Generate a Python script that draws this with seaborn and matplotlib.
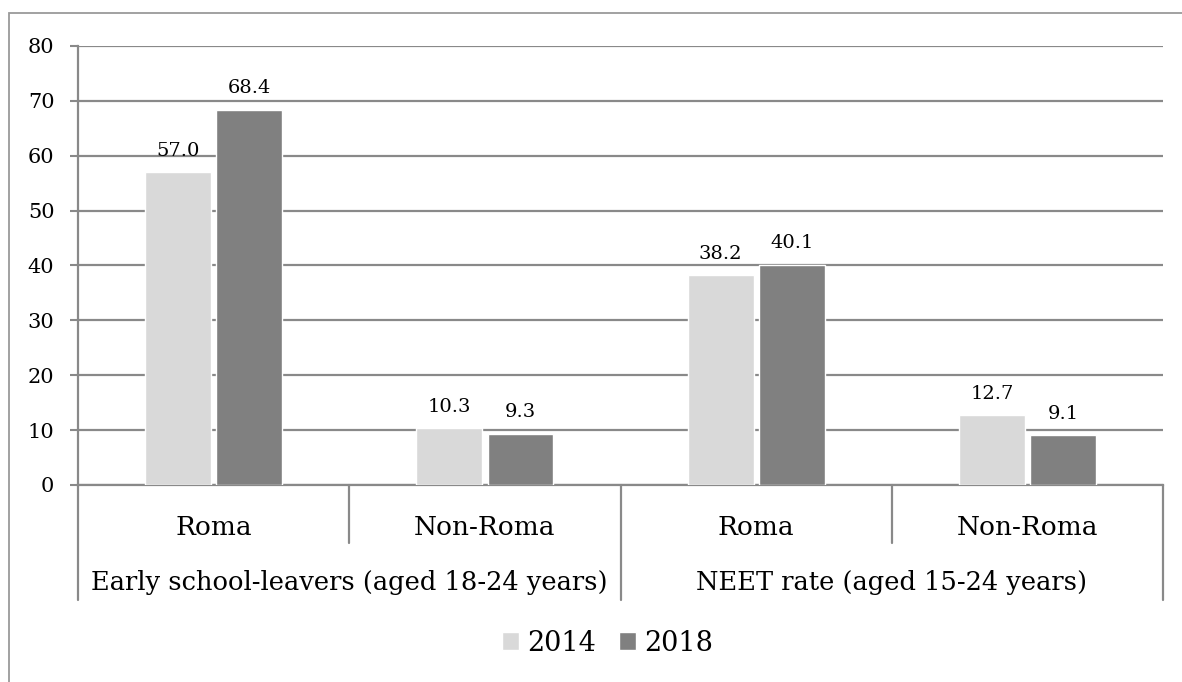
import matplotlib
matplotlib.use("Agg")
import matplotlib.pyplot as plt
import matplotlib.transforms as mtransforms
from matplotlib.patches import Rectangle
import seaborn as sns
import pandas as pd

groups = ["Early school-leavers (aged 18-24 years)", "NEET rate (aged 15-24 years)"]
subcats = ["Roma", "Non-Roma", "Roma", "Non-Roma"]
years = ["2014", "2018"]
vals_2014 = [57.0, 10.3, 38.2, 12.7]
vals_2018 = [68.4, 9.3, 40.1, 9.1]

keys = ["c0", "c1", "c2", "c3"]
df = pd.DataFrame({
    "cat": keys * 2,
    "year": ["2014"] * 4 + ["2018"] * 4,
    "value": vals_2014 + vals_2018,
})

sns.set_style("white")
plt.rcParams["font.family"] = ["DejaVu Serif"]
plt.rcParams["text.color"] = "black"
plt.rcParams["ytick.labelcolor"] = "black"

grid_col = "#898989"
fig = plt.figure(figsize=(11.82, 6.82), dpi=100)
ax = fig.add_axes([0.066, 0.2889, 0.918, 0.6437])

sns.barplot(data=df, x="cat", y="value", hue="year", order=keys, hue_order=years,
            palette=["#D9D9D9", "#808080"], width=0.524, gap=0.073,
            saturation=1, ax=ax, zorder=3)

for c in ax.containers:
    ax.bar_label(c, fmt="%.1f", padding=9, fontsize=14, color="black")

ax.set_ylim(0, 80)
ax.set_xlim(-0.5, 3.5)
ax.set_yticks(range(0, 81, 10))
ax.yaxis.grid(True, color=grid_col, lw=1.6, zorder=0)
ax.set_axisbelow(True)
ax.tick_params(axis="y", left=True, length=6, width=1.5, color=grid_col, labelsize=15,
               labelcolor="black", pad=11)
ax.set_xticks([])
ax.set_xlabel("")
ax.set_ylabel("")
for s in ["top", "right"]:
    ax.spines[s].set_visible(False)
for s in ["left", "bottom"]:
    ax.spines[s].set_color(grid_col)
    ax.spines[s].set_linewidth(1.6)

trans = mtransforms.blended_transform_factory(ax.transData, ax.transAxes)
for i, lab in enumerate(subcats):
    ax.text(i, -0.096, lab, transform=trans, ha="center", va="center", fontsize=19, color="black")
for g, lab in enumerate(groups):
    ax.text(2 * g + 0.5, -0.222, lab, transform=trans, ha="center", va="center",
            fontsize=18.5, color="black")
for xb in [-0.5, 1.5, 3.5]:
    ax.plot([xb, xb], [0, -0.262], transform=trans, color=grid_col, lw=1.6, clip_on=False)
for xb in [0.5, 2.5]:
    ax.plot([xb, xb], [0, -0.132], transform=trans, color=grid_col, lw=1.6, clip_on=False)

sns.move_legend(ax, "center", bbox_to_anchor=(0.514, 0.057), bbox_transform=fig.transFigure,
                ncol=2, frameon=False, title=None, fontsize=19.5, handlelength=0.63,
                handleheight=0.63, handletextpad=0.3, columnspacing=0.85,
                labelcolor="black", borderpad=0)

fig.patches.append(Rectangle((0.0076, -0.05), 1.1, 0.031 + 1.0, transform=fig.transFigure,
                             fill=False, edgecolor="#9a9a9a", lw=1.3))

fig.savefig("out.png", dpi=100)
